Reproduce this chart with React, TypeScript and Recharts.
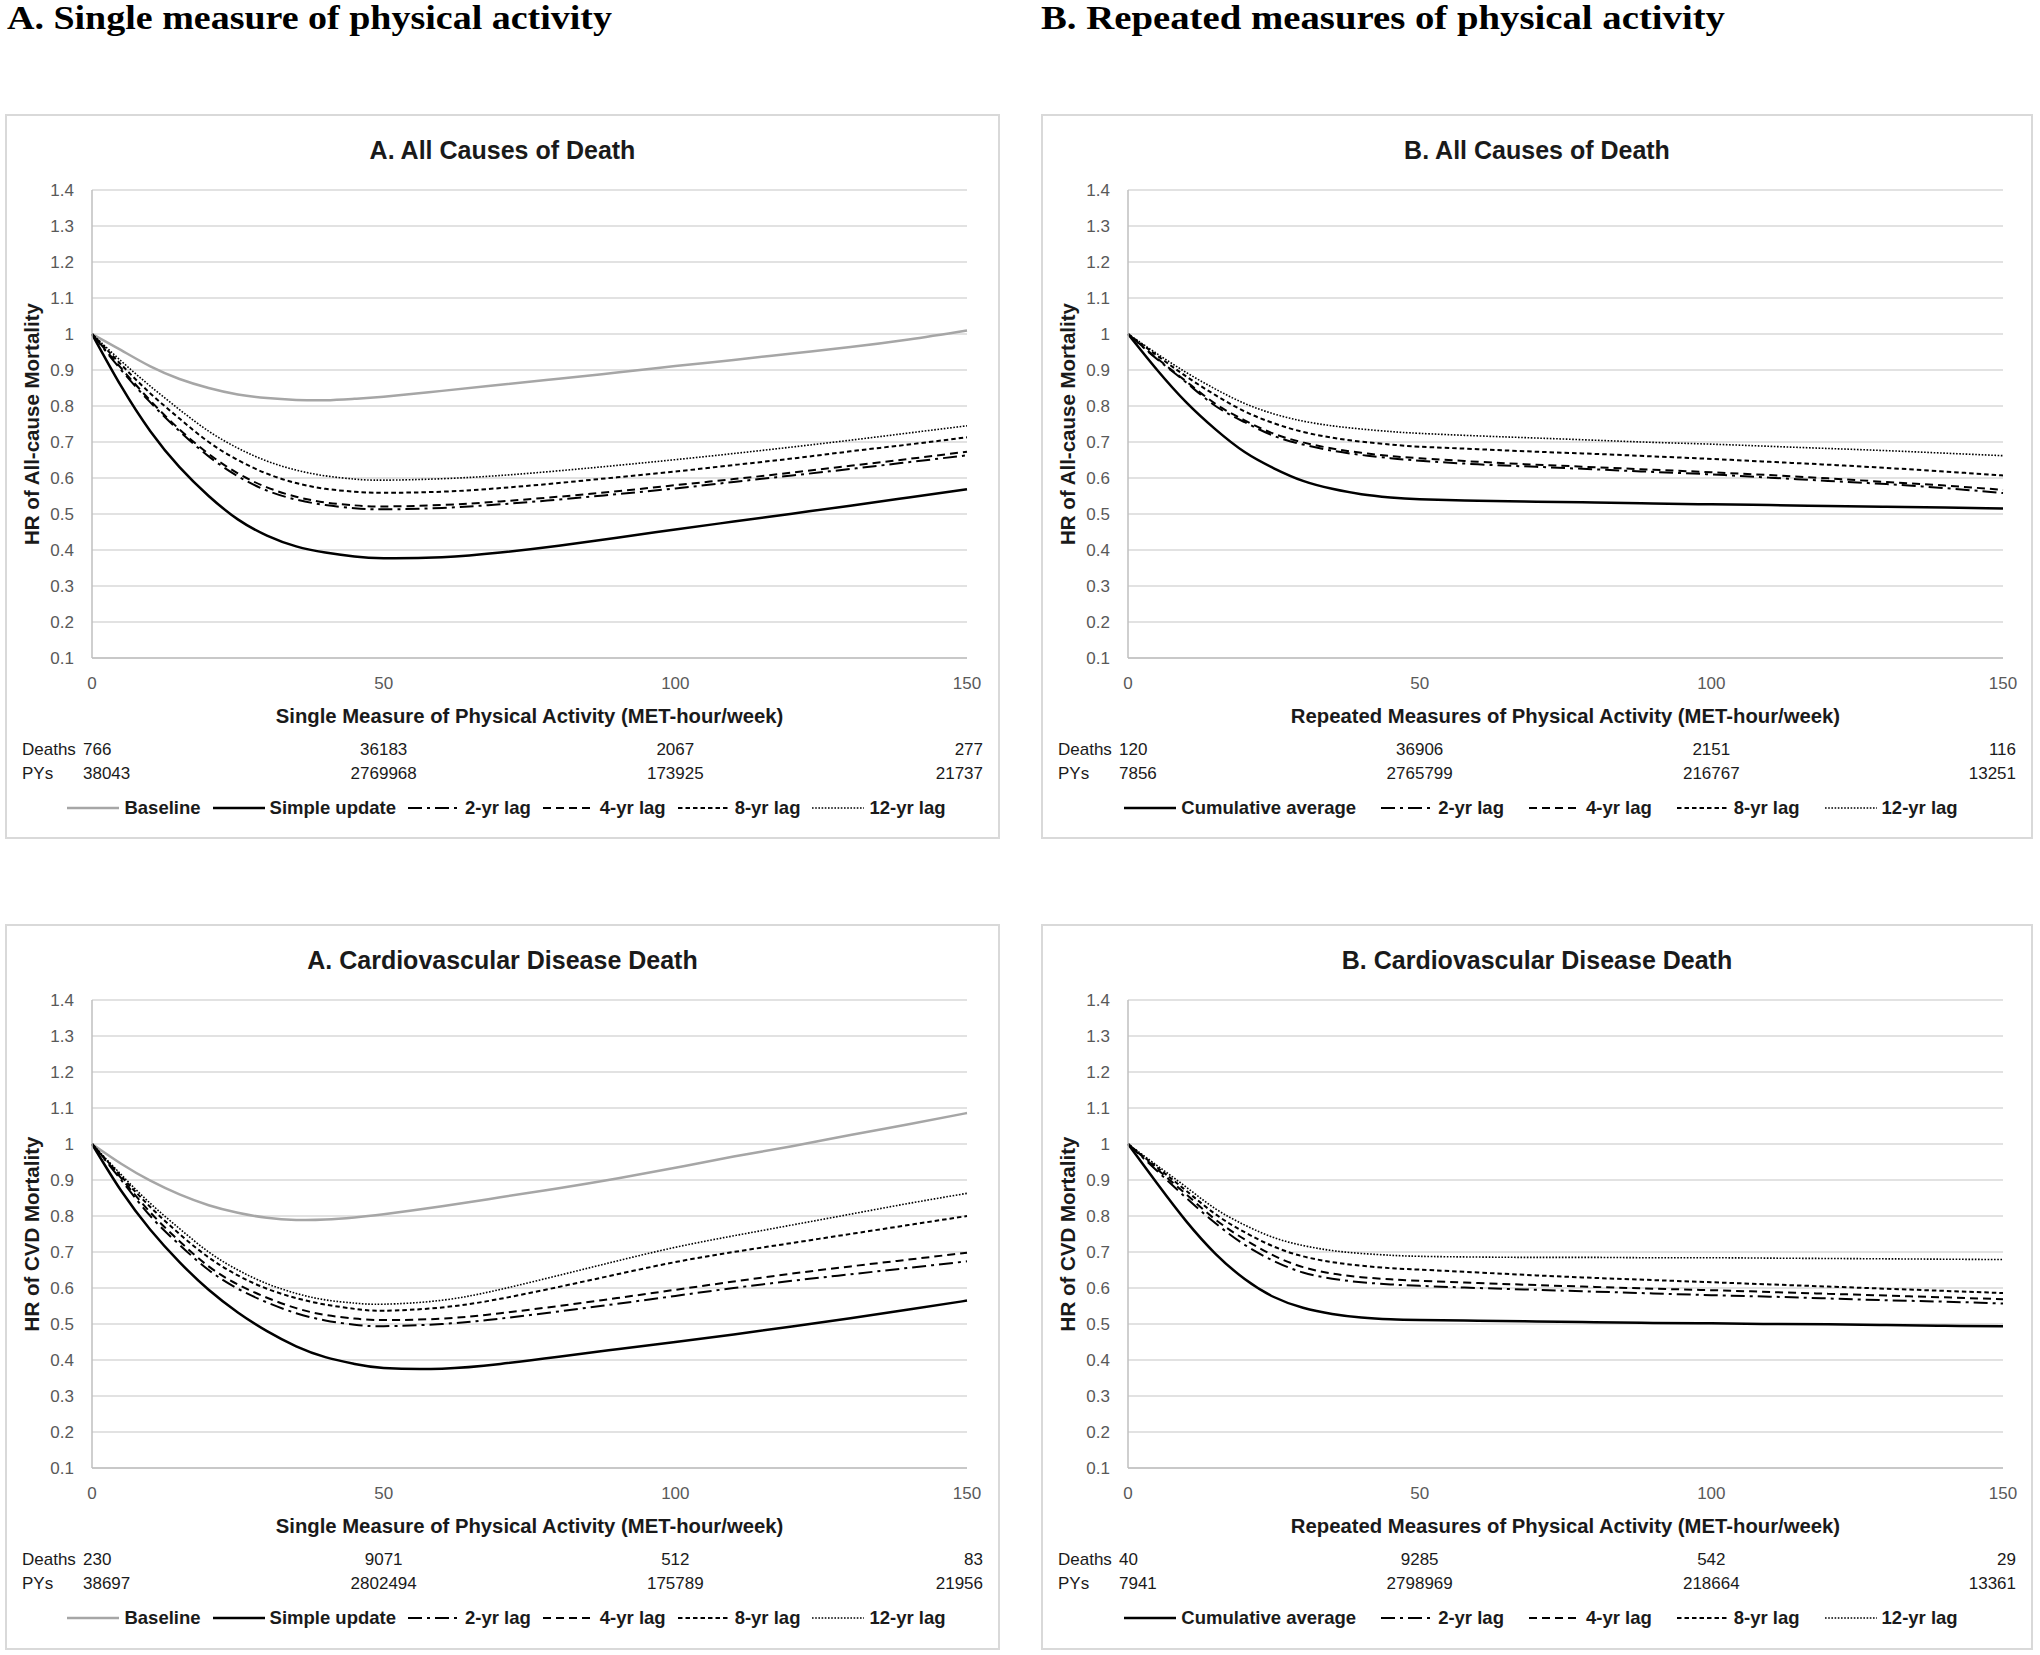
import React from 'react';
import { LineChart, Line, XAxis, YAxis, CartesianGrid } from 'recharts';

// ---------- data ----------
const MET = [0, 5, 10, 15, 20, 25, 30, 35, 40, 45, 50, 60, 70, 80, 90, 100, 110, 120, 130, 140, 150];
const Y_TICKS = [0.1, 0.2, 0.3, 0.4, 0.5, 0.6, 0.7, 0.8, 0.9, 1.0, 1.1, 1.2, 1.3, 1.4];
const X_TICKS = [0, 50, 100, 150];

// A. All causes of death (single measure)
const A1_BASELINE = [1.0, 0.955, 0.91, 0.875, 0.85, 0.832, 0.822, 0.817, 0.816, 0.82, 0.826, 0.842, 0.859, 0.876, 0.893, 0.911, 0.928, 0.946, 0.964, 0.985, 1.01];
const A1_SIMPLE = [1.0, 0.855, 0.73, 0.63, 0.55, 0.485, 0.44, 0.41, 0.393, 0.382, 0.377, 0.38, 0.393, 0.412, 0.434, 0.457, 0.479, 0.501, 0.523, 0.546, 0.569];
const A1_LAG2 = [1.0, 0.9, 0.81, 0.73, 0.66, 0.605, 0.565, 0.54, 0.525, 0.516, 0.513, 0.517, 0.527, 0.54, 0.555, 0.571, 0.589, 0.607, 0.625, 0.644, 0.663];
const A1_LAG4 = [1.0, 0.905, 0.815, 0.735, 0.667, 0.613, 0.574, 0.548, 0.532, 0.524, 0.521, 0.525, 0.535, 0.548, 0.563, 0.58, 0.597, 0.615, 0.634, 0.653, 0.673];
const A1_LAG8 = [1.0, 0.915, 0.835, 0.765, 0.7, 0.65, 0.612, 0.586, 0.57, 0.562, 0.559, 0.562, 0.572, 0.586, 0.602, 0.618, 0.636, 0.654, 0.674, 0.693, 0.713];
const A1_LAG12 = [1.0, 0.925, 0.855, 0.79, 0.73, 0.683, 0.647, 0.622, 0.606, 0.597, 0.594, 0.598, 0.607, 0.62, 0.635, 0.651, 0.668, 0.686, 0.705, 0.725, 0.745];

// B. All causes of death (repeated measures)
const B1_CUM = [1.0, 0.9, 0.81, 0.735, 0.672, 0.627, 0.592, 0.57, 0.555, 0.546, 0.541, 0.537, 0.534, 0.532, 0.529, 0.527, 0.525, 0.522, 0.52, 0.518, 0.515];
const B1_LAG2 = [1.0, 0.93, 0.865, 0.8, 0.755, 0.717, 0.693, 0.676, 0.664, 0.655, 0.648, 0.638, 0.631, 0.624, 0.617, 0.61, 0.601, 0.592, 0.583, 0.572, 0.558];
const B1_LAG4 = [1.0, 0.932, 0.868, 0.806, 0.76, 0.723, 0.699, 0.682, 0.67, 0.661, 0.655, 0.645, 0.637, 0.63, 0.623, 0.616, 0.608, 0.599, 0.589, 0.579, 0.567];
const B1_LAG8 = [1.0, 0.94, 0.882, 0.83, 0.785, 0.752, 0.728, 0.712, 0.701, 0.693, 0.687, 0.68, 0.673, 0.667, 0.66, 0.653, 0.645, 0.637, 0.628, 0.618, 0.607];
const B1_LAG12 = [1.0, 0.945, 0.893, 0.847, 0.807, 0.778, 0.758, 0.745, 0.736, 0.729, 0.724, 0.717, 0.711, 0.705, 0.699, 0.694, 0.688, 0.682, 0.676, 0.669, 0.662];

// A. Cardiovascular disease death (single measure)
const A2_BASELINE = [1.0, 0.945, 0.898, 0.86, 0.83, 0.809, 0.795, 0.789, 0.79, 0.796, 0.805, 0.827, 0.852, 0.877, 0.904, 0.934, 0.965, 0.994, 1.025, 1.055, 1.086];
const A2_SIMPLE = [1.0, 0.87, 0.762, 0.672, 0.595, 0.532, 0.48, 0.438, 0.408, 0.389, 0.378, 0.376, 0.389, 0.409, 0.43, 0.45, 0.471, 0.493, 0.516, 0.54, 0.565];
const A2_LAG2 = [1.0, 0.9, 0.8, 0.72, 0.65, 0.598, 0.56, 0.53, 0.51, 0.498, 0.494, 0.5, 0.515, 0.535, 0.556, 0.578, 0.6, 0.62, 0.638, 0.656, 0.674];
const A2_LAG4 = [1.0, 0.905, 0.81, 0.73, 0.66, 0.61, 0.573, 0.544, 0.525, 0.515, 0.511, 0.515, 0.53, 0.55, 0.572, 0.595, 0.618, 0.64, 0.66, 0.679, 0.698];
const A2_LAG8 = [1.0, 0.91, 0.825, 0.75, 0.685, 0.635, 0.598, 0.572, 0.554, 0.542, 0.537, 0.546, 0.57, 0.603, 0.638, 0.672, 0.7, 0.725, 0.75, 0.775, 0.8];
const A2_LAG12 = [1.0, 0.915, 0.835, 0.765, 0.7, 0.65, 0.612, 0.585, 0.567, 0.558, 0.555, 0.566, 0.596, 0.635, 0.675, 0.713, 0.745, 0.775, 0.805, 0.835, 0.863];

// B. Cardiovascular disease death (repeated measures)
const B2_CUM = [1.0, 0.89, 0.785, 0.695, 0.625, 0.575, 0.545, 0.528, 0.518, 0.513, 0.511, 0.509, 0.507, 0.505, 0.503, 0.502, 0.5, 0.499, 0.497, 0.495, 0.494];
const B2_LAG2 = [1.0, 0.925, 0.85, 0.78, 0.72, 0.675, 0.643, 0.626, 0.616, 0.61, 0.606, 0.6, 0.595, 0.59, 0.585, 0.58, 0.576, 0.571, 0.566, 0.562, 0.557];
const B2_LAG4 = [1.0, 0.93, 0.86, 0.79, 0.735, 0.69, 0.658, 0.64, 0.63, 0.624, 0.62, 0.614, 0.608, 0.603, 0.598, 0.594, 0.589, 0.584, 0.579, 0.574, 0.569];
const B2_LAG8 = [1.0, 0.935, 0.87, 0.805, 0.755, 0.715, 0.688, 0.672, 0.662, 0.655, 0.651, 0.643, 0.635, 0.628, 0.622, 0.616, 0.61, 0.604, 0.598, 0.592, 0.586];
const B2_LAG12 = [1.0, 0.94, 0.88, 0.82, 0.775, 0.74, 0.718, 0.704, 0.696, 0.691, 0.688, 0.686, 0.685, 0.685, 0.684, 0.684, 0.683, 0.682, 0.681, 0.68, 0.679];

// table rows
const A1_DEATHS = ['766', '36183', '2067', '277'];
const A1_PYS = ['38043', '2769968', '173925', '21737'];
const B1_DEATHS = ['120', '36906', '2151', '116'];
const B1_PYS = ['7856', '2765799', '216767', '13251'];
const A2_DEATHS = ['230', '9071', '512', '83'];
const A2_PYS = ['38697', '2802494', '175789', '21956'];
const B2_DEATHS = ['40', '9285', '542', '29'];
const B2_PYS = ['7941', '2798969', '218664', '13361'];

const A_NAMES = ['Baseline', 'Simple update', '2-yr lag', '4-yr lag', '8-yr lag', '12-yr lag'];
const B_NAMES = ['Cumulative average', '2-yr lag', '4-yr lag', '8-yr lag', '12-yr lag'];

// ---------- styles ----------
const STYLE: Record<string, { stroke: string; width: number; dash?: string }> = {
  baseline: { stroke: '#a6a6a6', width: 2.5 },
  main: { stroke: '#000000', width: 2.5 },
  lag2: { stroke: '#000000', width: 2, dash: '14 5 3 5' },
  lag4: { stroke: '#000000', width: 2, dash: '8 5' },
  lag8: { stroke: '#000000', width: 2, dash: '4.5 3' },
  lag12: { stroke: '#000000', width: 1.6, dash: '1.6 1.6' },
};

const SANS = "'Liberation Sans', Arial, sans-serif";
const TEXT = '#1a1a1a';

type Series = { key: string; name: string; values: number[]; style: string };

const PLOT_LEFT = 87;
const PLOT_TOP = 76;
const PLOT_W = 875;
const PLOT_H = 468;
const X_AXIS_H = 40;

const fmt = (v: number) => String(Math.round(v * 10) / 10);

function LegendSample({ style }: { style: string }) {
  const s = STYLE[style];
  return (
    <svg width={52} height={10} style={{ display: 'block' }}>
      <line x1={0} y1={5} x2={52} y2={5} stroke={s.stroke} strokeWidth={s.width} strokeDasharray={s.dash} />
    </svg>
  );
}

function Panel(props: {
  left: number; top: number; width: number; height: number;
  title: string; yLabel: string; xLabel: string;
  series: Series[]; deaths: string[]; pys: string[];
  legendGap: number;
}) {
  const { left, top, width, height, title, yLabel, xLabel, series, deaths, pys, legendGap } = props;
  const data = MET.map((m, i) => {
    const row: Record<string, number> = { met: m };
    series.forEach((s) => { row[s.key] = s.values[i]; });
    return row;
  });
  const marginRight = width - PLOT_LEFT - PLOT_W;
  const marginBottom = height - PLOT_TOP - PLOT_H - X_AXIS_H;
  const xPos = (v: number) => PLOT_LEFT + (v / 150) * PLOT_W;
  const rowStyle = (cy: number): React.CSSProperties => ({
    position: 'absolute', top: cy - 11, height: 22, lineHeight: '22px', fontSize: 17, fontFamily: SANS, color: TEXT, whiteSpace: 'nowrap',
  });
  const tableRow = (label: string, vals: string[], cy: number) => (
    <React.Fragment key={label}>
      <div style={{ ...rowStyle(cy), left: 17 }}>{label}</div>
      <div style={{ ...rowStyle(cy), left: 78 }}>{vals[0]}</div>
      <div style={{ ...rowStyle(cy), left: xPos(50) - 100, width: 200, textAlign: 'center' }}>{vals[1]}</div>
      <div style={{ ...rowStyle(cy), left: xPos(100) - 100, width: 200, textAlign: 'center' }}>{vals[2]}</div>
      <div style={{ ...rowStyle(cy), left: width - 17 - 200, width: 200, textAlign: 'right' }}>{vals[3]}</div>
    </React.Fragment>
  );

  return (
    <div style={{ position: 'absolute', left, top, width, height }}>
      <div style={{ position: 'absolute', left: 0, top: 0, width, height, border: '2px solid #d9d9d9', boxSizing: 'border-box' }} />
      <div style={{ position: 'absolute', left: 0, top: 0 }}>
        <LineChart
          width={width}
          height={height}
          data={data}
          margin={{ top: PLOT_TOP, right: marginRight, bottom: marginBottom, left: 0 }}
        >
          <CartesianGrid vertical={false} stroke="#d9d9d9" strokeWidth={1.5} />
          <XAxis
            dataKey="met"
            type="number"
            domain={[0, 150]}
            ticks={X_TICKS}
            interval={0}
            height={X_AXIS_H}
            tickLine={false}
            tickSize={6}
            tickMargin={13}
            axisLine={{ stroke: '#bfbfbf', strokeWidth: 1.5 }}
            tick={{ fill: '#595959', fontSize: 17, fontFamily: SANS }}
          />
          <YAxis
            type="number"
            domain={[0.1, 1.4]}
            ticks={Y_TICKS}
            interval={0}
            width={PLOT_LEFT}
            tickLine={false}
            tickSize={6}
            tickMargin={12}
            tickFormatter={fmt}
            axisLine={{ stroke: '#bfbfbf', strokeWidth: 1.5 }}
            tick={{ fill: '#595959', fontSize: 17, fontFamily: SANS }}
          />
          {series.map((s) => {
            const st = STYLE[s.style];
            return (
              <Line
                key={s.key}
                type="natural"
                dataKey={s.key}
                name={s.name}
                stroke={st.stroke}
                strokeWidth={st.width}
                strokeDasharray={st.dash}
                dot={false}
                activeDot={false}
                isAnimationActive={false}
              />
            );
          })}
        </LineChart>
      </div>
      {/* title */}
      <div style={{ position: 'absolute', left: 0, width, top: 36 - 16, height: 32, lineHeight: '32px', textAlign: 'center', fontFamily: SANS, fontWeight: 700, fontSize: 25, color: TEXT }}>{title}</div>
      {/* y label */}
      <div style={{ position: 'absolute', left: 27 - 200, top: PLOT_TOP + PLOT_H / 2 - 14, width: 400, height: 28, lineHeight: '28px', textAlign: 'center', transform: 'rotate(-90deg)', fontFamily: SANS, fontWeight: 700, fontSize: 20.5, color: TEXT }}>{yLabel}</div>
      {/* x label */}
      <div style={{ position: 'absolute', left: PLOT_LEFT + PLOT_W / 2 - 400, width: 800, top: 602 - 14, height: 28, lineHeight: '28px', textAlign: 'center', fontFamily: SANS, fontWeight: 700, fontSize: 20.3, color: TEXT }}>{xLabel}</div>
      {tableRow('Deaths', deaths, 636)}
      {tableRow('PYs', pys, 660)}
      {/* legend */}
      <div style={{ position: 'absolute', left: 8, width: width - 8, top: 694 - 14, height: 28, display: 'flex', justifyContent: 'center', alignItems: 'center', columnGap: legendGap }}>
        {series.map((s) => (
          <div key={s.key} style={{ display: 'flex', alignItems: 'center' }}>
            <LegendSample style={s.style} />
            <span style={{ marginLeft: 5, fontFamily: SANS, fontWeight: 700, fontSize: 18.5, color: TEXT, whiteSpace: 'nowrap' }}>{s.name}</span>
          </div>
        ))}
      </div>
    </div>
  );
}

const A_STYLES = ['baseline', 'main', 'lag2', 'lag4', 'lag8', 'lag12'];
const B_STYLES = ['main', 'lag2', 'lag4', 'lag8', 'lag12'];

const mkSeries = (names: string[], styles: string[], values: number[][]): Series[] =>
  names.map((n, i) => ({ key: 's' + i, name: n, values: values[i], style: styles[i] }));

export default function App() {
  const a1 = mkSeries(A_NAMES, A_STYLES, [A1_BASELINE, A1_SIMPLE, A1_LAG2, A1_LAG4, A1_LAG8, A1_LAG12]);
  const b1 = mkSeries(B_NAMES, B_STYLES, [B1_CUM, B1_LAG2, B1_LAG4, B1_LAG8, B1_LAG12]);
  const a2 = mkSeries(A_NAMES, A_STYLES, [A2_BASELINE, A2_SIMPLE, A2_LAG2, A2_LAG4, A2_LAG8, A2_LAG12]);
  const b2 = mkSeries(B_NAMES, B_STYLES, [B2_CUM, B2_LAG2, B2_LAG4, B2_LAG8, B2_LAG12]);
  const serif = "'Liberation Serif', 'Times New Roman', serif";
  return (
    <div style={{ position: 'absolute', left: 0, top: 0, width: 2040, height: 1655, background: '#ffffff', overflow: 'hidden' }}>
      <svg width={2040} height={60} style={{ position: 'absolute', left: 0, top: 0 }}>
        <text x={7} y={29} fontFamily={serif} fontWeight={700} fontSize={34} textLength={605} lengthAdjust="spacingAndGlyphs" fill="#000">A. Single measure of physical activity</text>
        <text x={1041} y={29} fontFamily={serif} fontWeight={700} fontSize={34} textLength={684} lengthAdjust="spacingAndGlyphs" fill="#000">B. Repeated measures of physical activity</text>
      </svg>
      <Panel left={5} top={114} width={995} height={725} title="A. All Causes of Death" yLabel="HR of All-cause Mortality" xLabel="Single Measure of Physical Activity (MET-hour/week)" series={a1} deaths={A1_DEATHS} pys={A1_PYS} legendGap={12} />
      <Panel left={1041} top={114} width={992} height={725} title="B. All Causes of Death" yLabel="HR of All-cause Mortality" xLabel="Repeated Measures of Physical Activity (MET-hour/week)" series={b1} deaths={B1_DEATHS} pys={B1_PYS} legendGap={25} />
      <Panel left={5} top={924} width={995} height={726} title="A. Cardiovascular Disease Death" yLabel="HR of CVD Mortality" xLabel="Single Measure of Physical Activity (MET-hour/week)" series={a2} deaths={A2_DEATHS} pys={A2_PYS} legendGap={12} />
      <Panel left={1041} top={924} width={992} height={726} title="B. Cardiovascular Disease Death" yLabel="HR of CVD Mortality" xLabel="Repeated Measures of Physical Activity (MET-hour/week)" series={b2} deaths={B2_DEATHS} pys={B2_PYS} legendGap={25} />
    </div>
  );
}
